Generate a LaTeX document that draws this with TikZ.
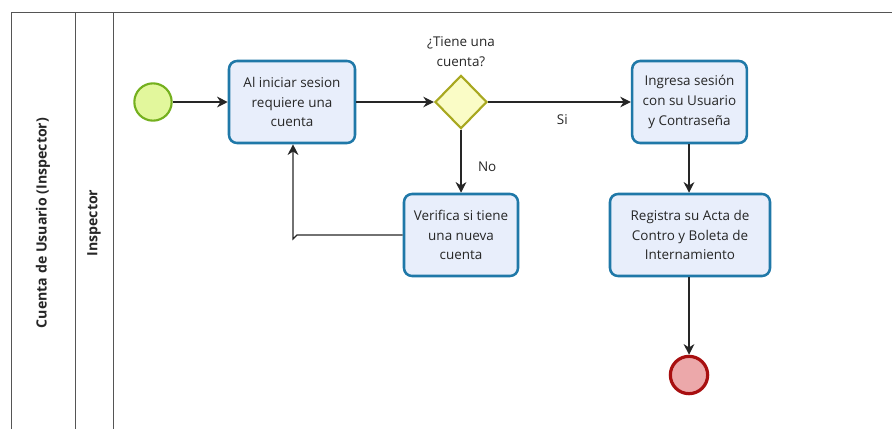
\documentclass[tikz,border=0pt]{standalone}
\usepackage{fontspec}
\setmainfont{Open Sans}
\usetikzlibrary{arrows.meta,shapes.geometric}
\definecolor{taskfill}{HTML}{E8EEFB}
\definecolor{taskline}{HTML}{1F78A8}
\definecolor{startfill}{HTML}{E2F79C}
\definecolor{startline}{HTML}{74B01E}
\definecolor{endfill}{HTML}{ECA8AA}
\definecolor{endline}{HTML}{A80F10}
\definecolor{gwfill}{HTML}{FAFCC6}
\definecolor{gwline}{HTML}{A8A820}
\definecolor{poolline}{HTML}{555555}
\tikzset{
  every node/.style={font=\fontsize{10.1}{14.9}\selectfont, text=black!85},
  task/.style={draw=taskline, fill=taskfill, line width=1.9pt, rounded corners=6pt,
    align=center, inner sep=0pt},
  flow/.style={draw=black!85, line width=0.9pt, -{Stealth[length=8pt,width=8pt,inset=2.6pt]}},
  startev/.style={circle, draw=startline, fill=startfill, line width=1.6pt, minimum size=28pt, inner sep=0pt},
  endev/.style={circle, draw=endline, fill=endfill, line width=2.4pt, minimum size=28pt, inner sep=0pt},
  gateway/.style={diamond, draw=gwline, fill=gwfill, line width=1.6pt, minimum width=39pt, minimum height=40pt, inner sep=0pt},
  lanetitle/.style={rotate=90, font=\fontsize{10.6}{13}\selectfont\bfseries},
  poolrule/.style={draw=poolline, line width=0.7pt}
}
\begin{document}
\begin{tikzpicture}[x=0.75pt, y=-0.75pt]
\useasboundingbox (0,0) rectangle (892,429);
% pool and lane frame
\draw[poolrule] (11,429) -- (11,12) -- (892,12);
\draw[poolrule] (75,12) -- (75,429);
\draw[poolrule] (113,12) -- (113,429);
\node[lanetitle] (pooltitle) at (43,223) {Cuenta de Usuario (Inspector)};
\node[lanetitle] (lanetitle) at (94,223) {Inspector};

% events, tasks and gateway
\node[startev] (start) at (153,102) {};
\node[task, minimum width=94.5pt, minimum height=61.5pt] (t1) at (292,102) {Al iniciar sesion\\requiere una\\cuenta};
\node[gateway] (gw) at (461,102) {};
\node (gwlabel) at (461,52) [align=center] {¿Tiene una\\cuenta?};
\node[task, minimum width=86pt, minimum height=61.5pt] (t2) at (689.5,102) {Ingresa sesión\\con su Usuario\\y Contraseña};
\node[task, minimum width=85.5pt, minimum height=61.5pt] (t3) at (461,235) {Verifica si tiene\\una nueva\\cuenta};
\node[task, minimum width=120pt, minimum height=61.5pt] (t4) at (690,235) {Registra su Acta de\\Contro y Boleta de\\Internamiento};
\node[endev] (end) at (689,375) {};

% sequence flows
\draw[flow] (start) -- (t1);
\draw[flow] (t1) -- (gw);
\draw[flow] (gw) -- node[pos=0.52, below=6pt] (si) {Si} (t2);
\draw[flow] (gw) -- node[pos=0.58, right=9pt] (no) {No} (t3);
\coordinate (bend) at (293,235);
\draw[flow] (t3.west) -- ([xshift=3pt]bend) -- ([yshift=-3pt]bend) -- (t1.south -| bend);
\draw[flow] (t2.south -| 689,0) -- (t4.north -| 689,0);
\draw[flow] (t4.south -| 689,0) -- (end);
\end{tikzpicture}
\end{document}
